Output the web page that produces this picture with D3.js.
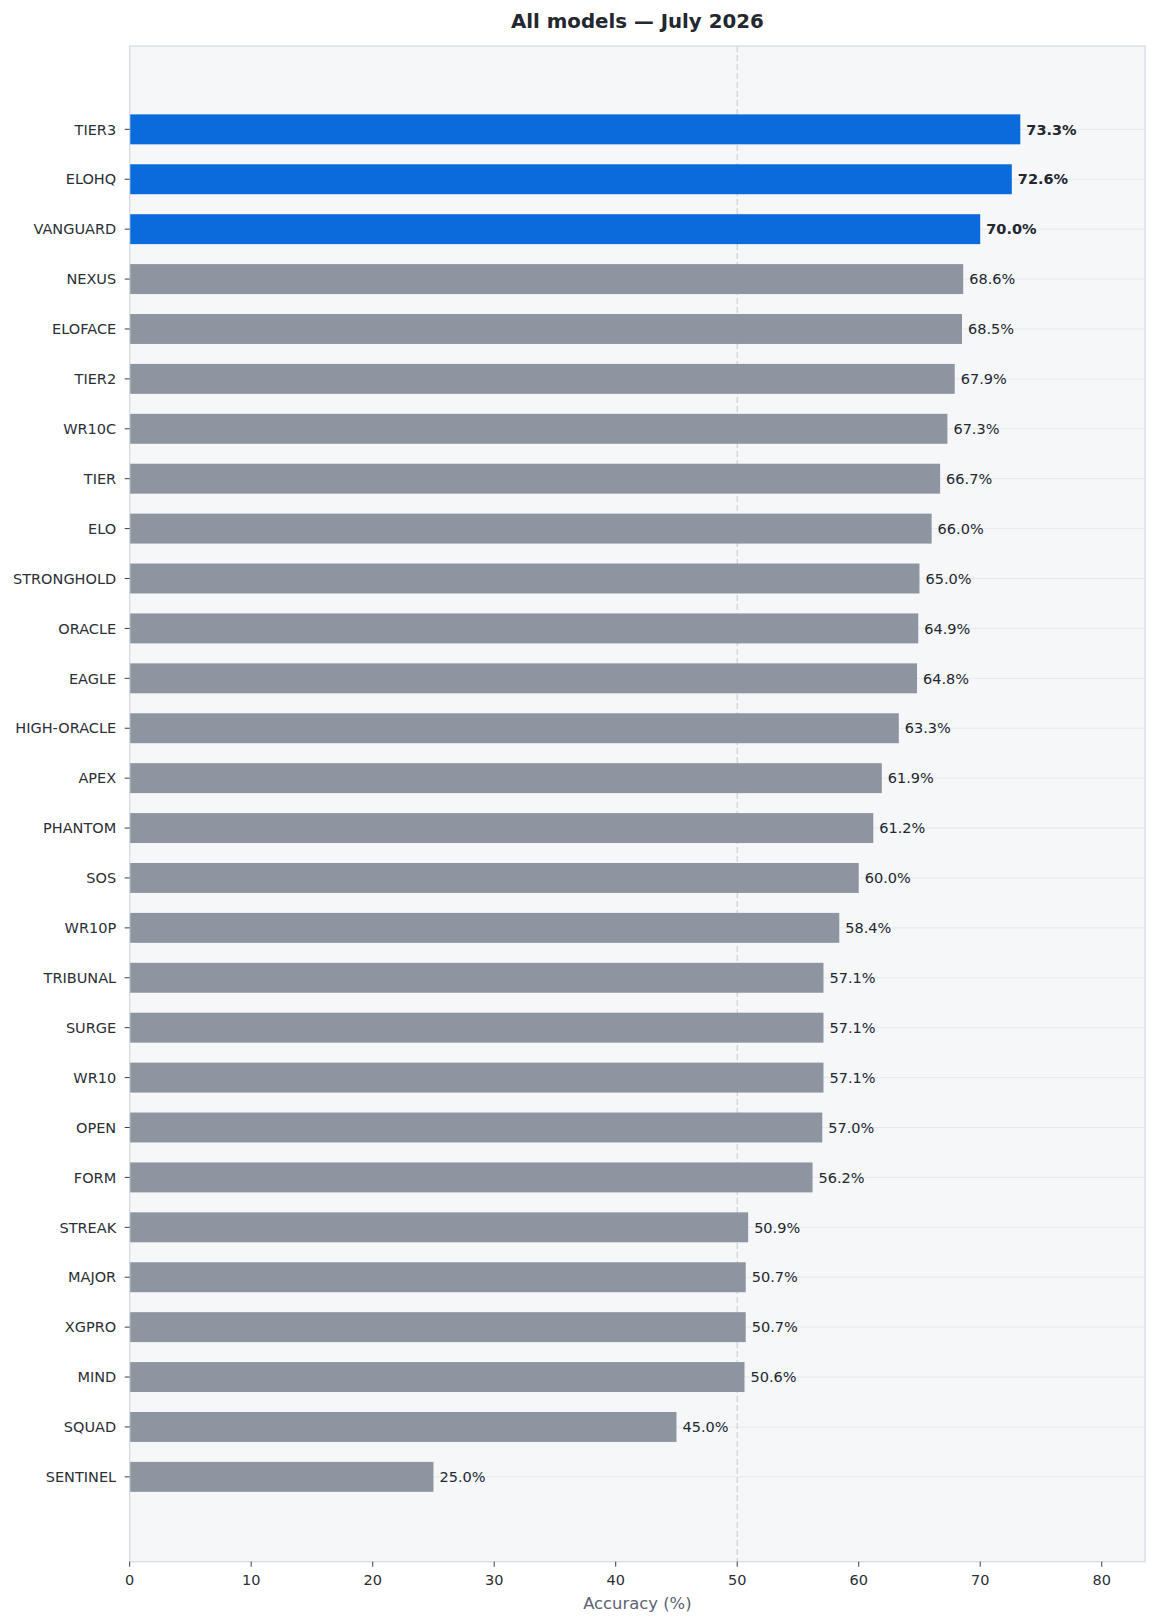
<!DOCTYPE html>
<html>
<head>
<meta charset="utf-8">
<script src="https://cdn.jsdelivr.net/npm/d3@7"></script>
<style>
  html, body { margin: 0; padding: 0; background: #ffffff; }
  svg { display: block; font-family: "DejaVu Sans", sans-serif; }
</style>
</head>
<body>
<svg id="chart" width="1157" height="1623"></svg>
<script>
const models = ["TIER3","ELOHQ","VANGUARD","NEXUS","ELOFACE","TIER2","WR10C","TIER","ELO","STRONGHOLD","ORACLE","EAGLE","HIGH-ORACLE","APEX","PHANTOM","SOS","WR10P","TRIBUNAL","SURGE","WR10","OPEN","FORM","STREAK","MAJOR","XGPRO","MIND","SQUAD","SENTINEL"];
const accuracy = [73.3,72.6,70.0,68.6,68.5,67.9,67.3,66.7,66.0,65.0,64.9,64.8,63.3,61.9,61.2,60.0,58.4,57.1,57.1,57.1,57.0,56.2,50.9,50.7,50.7,50.6,45.0,25.0];
const highlighted = ["TIER3","ELOHQ","VANGUARD"];
const xTicks = [0,10,20,30,40,50,60,70,80];
const referenceLine = 50;
const titleText = "All models \u2014 July 2026";
const xLabel = "Accuracy (%)";

const svg = d3.select("#chart");
const pLeft = 129.7, pRight = 1145, pTop = 46, pBottom = 1561.7;

const xMax = d3.max(accuracy) * 1.14;
const x = d3.scaleLinear().domain([0, xMax]).range([pLeft, pRight]);
const idx = d3.range(models.length);
const y = d3.scaleLinear().domain([-1.67, models.length - 1 + 1.7]).range([pTop, pBottom]);
const bandH = y(1) - y(0);
const barH = bandH * 0.6;

// axes background
svg.append("rect").attr("x", pLeft).attr("y", pTop).attr("width", pRight - pLeft).attr("height", pBottom - pTop)
  .attr("fill", "#f6f7f9");

// horizontal grid at each category
svg.append("g").selectAll("line").data(idx).join("line")
  .attr("x1", pLeft).attr("x2", pRight)
  .attr("y1", i => y(i)).attr("y2", i => y(i))
  .attr("stroke", "#e6e9ef").attr("stroke-width", 1);

// reference line
svg.append("line").attr("x1", x(referenceLine)).attr("x2", x(referenceLine))
  .attr("y1", pTop).attr("y2", pBottom)
  .attr("stroke", "#cdd2da").attr("stroke-width", 1.2).attr("stroke-dasharray", "6,3");

// bars
svg.append("g").selectAll("rect").data(idx).join("rect")
  .attr("x", x(0))
  .attr("y", i => y(i) - barH / 2)
  .attr("width", i => x(accuracy[i]) - x(0))
  .attr("height", barH)
  .attr("fill", i => highlighted.includes(models[i]) ? "#0b6bdc" : "#8c95a0");

// value labels
svg.append("g").selectAll("text").data(idx).join("text")
  .attr("x", i => x(accuracy[i]) + 6)
  .attr("y", i => y(i))
  .attr("dy", "0.36em")
  .attr("font-size", "14.5px")
  .attr("font-weight", i => highlighted.includes(models[i]) ? "bold" : "normal")
  .attr("fill", "#23272f")
  .text(i => accuracy[i].toFixed(1) + "%");

// frame
svg.append("rect").attr("x", pLeft).attr("y", pTop).attr("width", pRight - pLeft).attr("height", pBottom - pTop)
  .attr("fill", "none").attr("stroke", "#d3d9e2").attr("stroke-width", 1.2);

// y axis ticks & labels
const yg = svg.append("g");
yg.selectAll("line").data(idx).join("line")
  .attr("x1", pLeft - 5).attr("x2", pLeft)
  .attr("y1", i => y(i)).attr("y2", i => y(i))
  .attr("stroke", "#3a3f47").attr("stroke-width", 1);
yg.selectAll("text").data(idx).join("text")
  .attr("x", pLeft - 13.5)
  .attr("y", i => y(i))
  .attr("dy", "0.36em")
  .attr("text-anchor", "end")
  .attr("font-size", "14.5px")
  .attr("fill", "#2b2f36")
  .text(i => models[i]);

// x axis ticks & labels
const xg = svg.append("g");
xg.selectAll("line").data(xTicks).join("line")
  .attr("x1", d => x(d)).attr("x2", d => x(d))
  .attr("y1", pBottom).attr("y2", pBottom + 5)
  .attr("stroke", "#3a3f47").attr("stroke-width", 1);
xg.selectAll("text").data(xTicks).join("text")
  .attr("x", d => x(d))
  .attr("y", pBottom + 23.5)
  .attr("text-anchor", "middle")
  .attr("font-size", "14.5px")
  .attr("fill", "#2b2f36")
  .text(d => d);

// x label
svg.append("text").attr("x", (pLeft + pRight) / 2).attr("y", 1608.5)
  .attr("text-anchor", "middle").attr("font-size", "16.4px").attr("fill", "#5b6472")
  .text(xLabel);

// title
svg.append("text").attr("x", (pLeft + pRight) / 2).attr("y", 27.5)
  .attr("text-anchor", "middle").attr("font-size", "19.8px").attr("font-weight", "bold").attr("fill", "#23272f")
  .text(titleText);
</script>
</body>
</html>
